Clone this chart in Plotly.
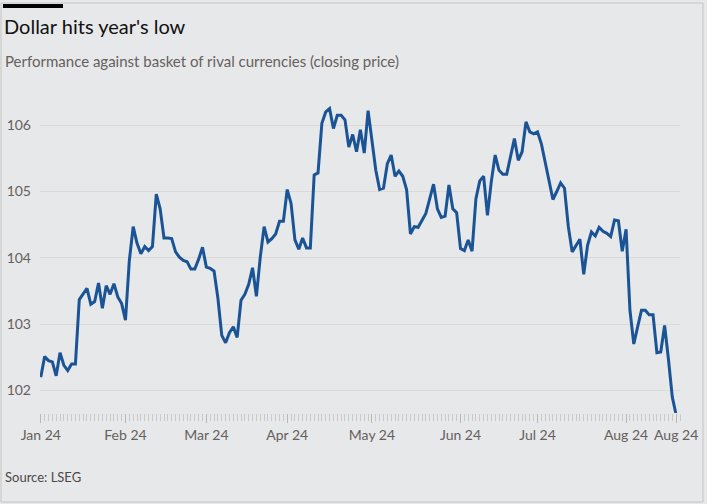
import pandas as pd
import plotly.graph_objects as go

title_text = "Dollar hits year's low"
subtitle_text = "Performance against basket of rival currencies (closing price)"
source_text = "Source: LSEG"
start_date = "2024-01-02"

dxy_close = [
    102.20, 102.51, 102.45, 102.43, 102.22, 102.57, 102.38, 102.30, 102.40, 102.40,
    103.37, 103.46, 103.54, 103.30, 103.34, 103.62, 103.24, 103.58, 103.45, 103.61,
    103.41, 103.31, 103.06, 103.96, 104.47, 104.22, 104.06, 104.17, 104.11, 104.17,
    104.96, 104.74, 104.30, 104.30, 104.29, 104.09, 104.01, 103.96, 103.94, 103.83,
    103.83, 103.98, 104.16, 103.86, 103.84, 103.80, 103.39, 102.83, 102.72, 102.87,
    102.96, 102.80, 103.36, 103.45, 103.60, 103.85, 103.42, 104.01, 104.47, 104.24,
    104.29, 104.36, 104.55, 104.55, 105.03, 104.82, 104.27, 104.13, 104.30, 104.15,
    104.15, 105.25, 105.28, 106.03, 106.20, 106.25, 105.95, 106.15, 106.15, 106.08,
    105.67, 105.86, 105.60, 105.93, 105.58, 106.22, 105.77, 105.32, 105.03, 105.05,
    105.42, 105.55, 105.23, 105.31, 105.23, 105.03, 104.36, 104.47, 104.46, 104.57,
    104.67, 104.89, 105.11, 104.74, 104.61, 104.63, 105.10, 104.74, 104.68, 104.14,
    104.11, 104.27, 104.10, 104.89, 105.16, 105.23, 104.64, 105.15, 105.55, 105.32,
    105.26, 105.26, 105.55, 105.80, 105.47, 105.60, 106.05, 105.90, 105.87, 105.90,
    105.72, 105.45, 105.17, 104.88, 105.00, 105.13, 105.05, 104.47, 104.09, 104.19,
    104.28, 103.75, 104.19, 104.39, 104.33, 104.46, 104.40, 104.37, 104.32, 104.57,
    104.56, 104.10, 104.43, 103.21, 102.70, 102.96, 103.21, 103.21, 103.14, 103.14,
    102.57, 102.58, 102.98, 102.47, 101.90, 101.63,
]
y_ticks = [102, 103, 104, 105, 106]

n = len(dxy_close)
dates = pd.bdate_range(start_date, periods=n)
x_idx = list(range(n))
tick_idx = [0] + [i for i in range(1, n) if dates[i].month != dates[i - 1].month] + [n - 1]
tick_text = [dates[i].strftime("%b %y") for i in tick_idx]

BG = "#e7e8ea"
FONT = "Lato"
GREY = "#66605c"

# plot area in pixels
W, H = 707, 504
L, R, T, B = 40, 27, 102, 91
pw, ph = W - L - R, H - T - B

def px_x(px):
    return (px - L) / pw

def px_y(py):
    return (H - B - py) / ph

fig = go.Figure()
fig.add_trace(go.Scatter(
    x=x_idx, y=dxy_close, mode="lines",
    line=dict(color="#1a5496", width=3),
    text=[d.strftime("%d %b %Y") for d in dates],
    hovertemplate="%{text}: %{y:.2f}<extra></extra>",
    showlegend=False,
))

fig.update_layout(
    width=W, height=H,
    margin=dict(l=L, r=R, t=T, b=B, autoexpand=False),
    paper_bgcolor=BG, plot_bgcolor=BG,
    font=dict(family=FONT, color=GREY, size=14),
    title=dict(text=title_text, xref="container", yref="container",
               x=4 / W, y=1 - 27 / H, xanchor="left", yanchor="middle",
               font=dict(family=FONT, size=20, color="#111111")),
    xaxis=dict(
        range=[-0.2, n + 0.0], showgrid=False, zeroline=False, showline=False,
        tickmode="array", tickvals=tick_idx, ticktext=tick_text,
        ticks="outside", ticklen=9, tickcolor="#b8b8b8", tickwidth=1,
        tickfont=dict(size=14, color=GREY),
        minor=dict(dtick=1, tick0=0, ticks="outside", ticklen=7,
                   tickcolor="#c9c9c9", tickwidth=1, showgrid=False),
        fixedrange=True, automargin=False,
    ),
    yaxis=dict(
        range=[101.66, 106.35], tickvals=y_ticks,
        showgrid=True, gridcolor="#dcd8d6", gridwidth=1,
        zeroline=False, showline=False, ticks="",
        ticklabelstandoff=8,
        tickfont=dict(size=14, color=GREY), fixedrange=True, automargin=False,
    ),
    annotations=[
        dict(text=subtitle_text, xref="paper", yref="paper",
             x=px_x(3), y=px_y(61), xanchor="left", yanchor="middle",
             showarrow=False, font=dict(family=FONT, size=15, color=GREY)),
        dict(text=source_text, xref="paper", yref="paper",
             x=px_x(3), y=px_y(477), xanchor="left", yanchor="middle",
             showarrow=False, font=dict(family=FONT, size=13, color="#4d4845")),
    ],
    shapes=[
        dict(type="rect", xref="paper", yref="paper",
             x0=px_x(1), x1=px_x(703), y0=px_y(502), y1=px_y(3),
             line=dict(color="#c4c4c4", width=1), fillcolor="rgba(0,0,0,0)", layer="below"),
        dict(type="rect", xref="paper", yref="paper",
             x0=px_x(3), x1=px_x(63), y0=px_y(8), y1=px_y(4),
             line=dict(width=0), fillcolor="#000000"),
    ],
)

post = (
    "document.body.style.margin='0';"
    "document.body.style.padding='0';"
    "document.body.style.overflow='hidden';"
    "document.body.style.background='" + BG + "';"
    "var gd=document.getElementById('{plot_id}');"
    "Plotly.relayout(gd,{width:" + str(W) + ",height:" + str(H) + "});"
)

fig.write_html("out.html", post_script=post,
               config={"responsive": False, "displayModeBar": False})
